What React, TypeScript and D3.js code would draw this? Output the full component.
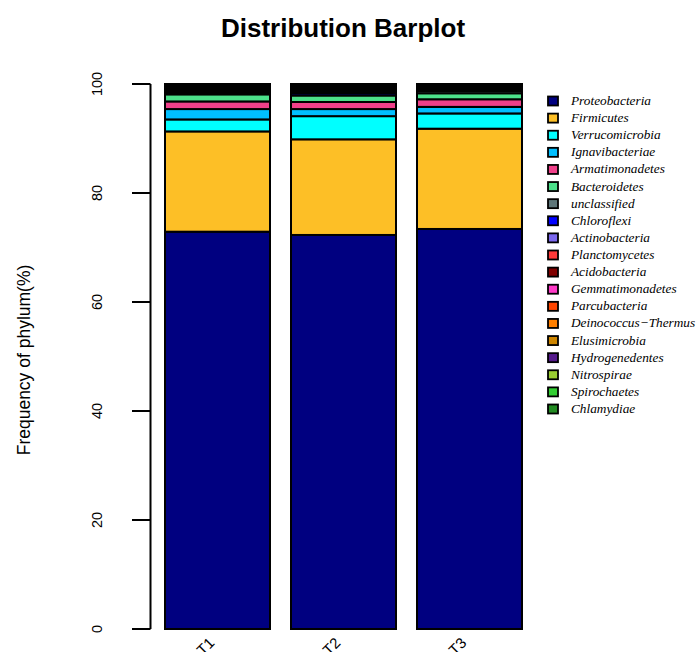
import React from "react";
import * as d3 from "d3";

const samples = ["T1", "T2", "T3"];
const phyla = [
  "Proteobacteria", "Firmicutes", "Verrucomicrobia", "Ignavibacteriae", "Armatimonadetes",
  "Bacteroidetes", "unclassified", "Chloroflexi", "Actinobacteria", "Planctomycetes",
  "Acidobacteria", "Gemmatimonadetes", "Parcubacteria", "Deinococcus\u2212Thermus",
  "Elusimicrobia", "Hydrogenedentes", "Nitrospirae", "Spirochaetes", "Chlamydiae",
];
const colors = [
  "#000080", "#FDBF26", "#00FFFF", "#00BFFF", "#F0408A",
  "#4CE08A", "#5E7679", "#0000FF", "#7B68EE", "#FF3A3A",
  "#800000", "#FF3AC8", "#FF4500", "#FF7F00",
  "#CD8500", "#551A8B", "#9ACD32", "#32CD32", "#228B22",
];
const valuesT1 = [72.9, 18.4, 2.2, 1.9, 1.4, 1.3, 0.3, 0.3, 0.2, 0.2, 0.15, 0.15, 0.12, 0.1, 0.1, 0.08, 0.08, 0.06, 0.06];
const valuesT2 = [72.3, 17.55, 4.25, 1.3, 1.3, 1.2, 0.05, 0.4, 0.3, 0.25, 0.2, 0.2, 0.15, 0.15, 0.1, 0.1, 0.08, 0.06, 0.06];
const valuesT3 = [73.4, 18.4, 2.8, 1.2, 1.4, 1.1, 0.4, 0.25, 0.15, 0.15, 0.12, 0.12, 0.1, 0.1, 0.08, 0.08, 0.06, 0.05, 0.04];
const yTicks = [0, 20, 40, 60, 80, 100];

export default function App() {
  const W = 697, H = 652;
  const y = d3.scaleLinear().domain([0, 100]).range([629, 84]);
  const x = d3.scaleBand<string>().domain(samples).range([165, 522]).paddingInner(1 / 6).paddingOuter(0);
  const table = [valuesT1, valuesT2, valuesT3];
  const rows = samples.map((s, i) => {
    const r: any = { sample: s };
    phyla.forEach((p, j) => (r[p] = table[i][j]));
    return r;
  });
  const stack = d3.stack<any>().keys(phyla)(rows);
  const legendY = d3.scaleLinear().domain([0, phyla.length - 1]).range([101, 409]);
  const sans = "Liberation Sans, Arial, sans-serif";

  return (
    <svg width={W} height={H} style={{ position: "absolute", left: 0, top: 0 }}>
      <rect width={W} height={H} fill="#fff" />
      <text x={343} y={37} textAnchor="middle" fontFamily={sans} fontWeight="bold" fontSize={26}>
        Distribution Barplot
      </text>
      {stack.map((layer, li) => (
        <g key={li}>
          {layer.map((d, si) => (
            <rect
              key={si}
              x={x(samples[si])!}
              width={x.bandwidth()}
              y={y(d[1])}
              height={y(d[0]) - y(d[1])}
              fill={colors[li]}
              stroke="#000"
              strokeWidth={2}
            />
          ))}
        </g>
      ))}
      {/* y axis */}
      <line x1={150.5} x2={150.5} y1={y(0)} y2={y(100)} stroke="#000" strokeWidth={2} />
      {yTicks.map((t) => (
        <g key={t}>
          <line x1={132} x2={150.5} y1={y(t)} y2={y(t)} stroke="#000" strokeWidth={2} />
          <text
            transform={`translate(${102},${y(t)}) rotate(-90)`}
            textAnchor="middle"
            fontFamily={sans}
            fontSize={14.5}
          >
            {t}
          </text>
        </g>
      ))}
      <text
        transform={`translate(${30},${360}) rotate(-90)`}
        textAnchor="middle"
        fontFamily={sans}
        fontSize={17.5}
      >
        Frequency of phylum(%)
      </text>
      {/* x labels */}
      {samples.map((s) => (
        <text
          key={s}
          transform={`translate(${x(s)! + x.bandwidth() / 2 - 10},${636}) rotate(-45)`}
          textAnchor="end"
          dominantBaseline="hanging"
          fontFamily={sans}
          fontSize={15}
        >
          {s}
        </text>
      ))}
      {/* legend */}
      {phyla.map((p, i) => (
        <g key={p}>
          <rect x={548} y={legendY(i) - 4.5} width={10} height={9} fill={colors[i]} stroke="#000" strokeWidth={1.8} />
          <text
            x={571}
            y={legendY(i) + 4}
            fontFamily="Liberation Serif, Times New Roman, serif"
            fontStyle="italic"
            fontSize={13.3}
          >
            {p}
          </text>
        </g>
      ))}
    </svg>
  );
}
